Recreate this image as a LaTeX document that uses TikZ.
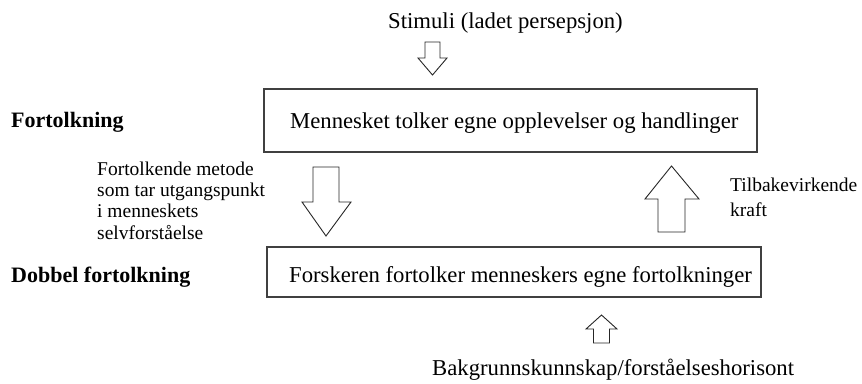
\documentclass[tikz,border=0pt]{standalone}
\usepackage{fontspec}
\setmainfont{Liberation Serif}
\begin{document}
\begin{tikzpicture}[x=1pt,y=-1pt,
  box/.style={draw=black!75,line width=1.3pt,inner sep=0pt},
  txt/.style={inner sep=0pt,anchor=base west,font=\fontsize{22.7}{27}\selectfont},
  small/.style={inner sep=0pt,anchor=base west,align=left,font=\fontsize{19.5}{21.3}\selectfont},
  lbl/.style={inner sep=0pt,anchor=base west,font=\fontsize{22}{26}\selectfont\bfseries},
  blockarrow/.style={draw=black!85,line width=0.9pt,fill=white,line join=miter}]
\useasboundingbox (0,0) rectangle (862,383);
% boxes
\node[box,minimum width=493pt,minimum height=63pt] (topbox) at (510.5,120.5) {};
\node[box,minimum width=494pt,minimum height=50pt] (botbox) at (514,272) {};
\node[txt] (toptext) at (290,128) {Mennesket tolker egne opplevelser og handlinger};
\node[txt] (bottext) at (289,282) {Forskeren fortolker menneskers egne fortolkninger};
% labels
\node[txt] (stim) at (388,28) {Stimuli (ladet persepsjon)};
\node[txt] (bakgr) at (432,375) {Bakgrunnskunnskap/forståelseshorisont};
\node[lbl] (fort) at (11,127) {Fortolkning};
\node[lbl] (dobb) at (11,282) {Dobbel fortolkning};
\node[small] (metode) at (97,239) {Fortolkende metode\\som tar utgangspunkt\\i menneskets\\selvforståelse};
\node[small] (tilb) at (730,191) {Tilbakevirkende};
\node[small] (kraft) at (730,216) {kraft};
% block arrows
% stimuli arrow (down)
\draw[blockarrow] (425,42) -- (440,42) -- (440,58) -- (447,58) -- (432.5,75) -- (418,58) -- (425,58) -- cycle;
% left big arrow (down)
\draw[blockarrow] (313,167) -- (339,167) -- (339,202) -- (351,202) -- (326,236) -- (302,202) -- (313,202) -- cycle;
% right big arrow (up)
\draw[blockarrow] (658,232) -- (685,232) -- (685,199) -- (699,199) -- (671.5,166) -- (645,199) -- (658,199) -- cycle;
% bottom small arrow (up)
\draw[blockarrow] (593.5,343) -- (609.5,343) -- (609.5,329) -- (617,329) -- (601.5,315) -- (586,329) -- (593.5,329) -- cycle;
\end{tikzpicture}
\end{document}
